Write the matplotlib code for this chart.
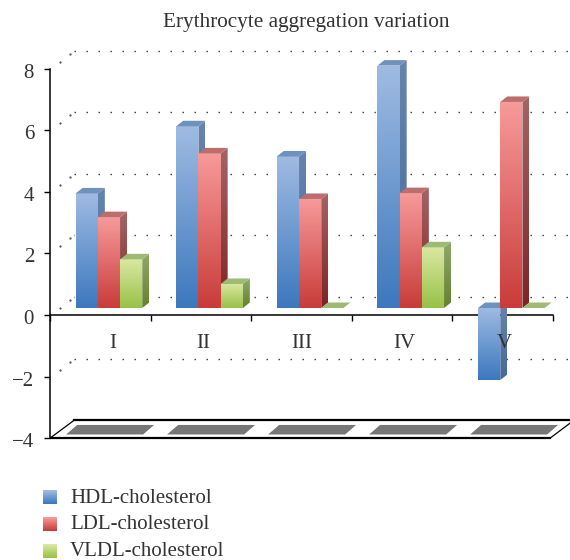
import matplotlib
matplotlib.use('Agg')
import matplotlib.pyplot as plt
import numpy as np
from matplotlib.colors import to_rgb, LinearSegmentedColormap
from matplotlib.legend_handler import HandlerBase
from matplotlib.patches import Patch, Polygon, Rectangle
from matplotlib.transforms import ScaledTranslation

plt.rcParams['font.family'] = ['Liberation Serif', 'DejaVu Serif']

# ---------------------------------------------------------------------------
# Data (bar height above the bar floor)
# ---------------------------------------------------------------------------
categories = ['I', 'II', 'III', 'IV', 'V']
hdl = [3.72, 5.90, 4.92, 7.87, -2.34]
ldl = [2.95, 5.02, 3.54, 3.73, 6.69]
vldl = [1.58, 0.78, 0.0, 1.97, 0.0]
series_names = ['HDL-cholesterol', 'LDL-cholesterol', 'VLDL-cholesterol']
y_ticks = [-4, -2, 0, 2, 4, 6, 8]
title = 'Erythrocyte aggregation variation'

# ---------------------------------------------------------------------------
# Fake 3D geometry and colours
# ---------------------------------------------------------------------------
PX_X = 1 / 100.6
PX_Y = 1 / 30.8
BAR_W = 22.2 * PX_X
GROUP_START = 0.255
BASE = 7 * PX_Y
DX = 7 * PX_X
DY = 5.5 * PX_Y
TEXT = '#333333'

# front top, front bottom, side top, side bottom, top face
styles = [
    ('#9FBBE2', '#3C78BE', '#6784AE', '#47699A', '#7090BE'),
    ('#F79A9A', '#C83C3A', '#A56464', '#7D2424', '#BC6E6E'),
    ('#DAE8A2', '#99C147', '#8FA96A', '#64802D', '#9FBA75'),
]
label_x = [0.62, 1.52, 2.50, 3.52, 4.52]


def gradient_poly(ax, verts, c_top, c_bottom, zorder=3):
    verts = np.array(verts)
    cmap = LinearSegmentedColormap.from_list('g', [c_top, c_bottom])
    grad = np.linspace(0, 1, 128).reshape(-1, 1)
    extent = (verts[:, 0].min(), verts[:, 0].max(), verts[:, 1].min(), verts[:, 1].max())
    im = ax.imshow(grad, cmap=cmap, extent=extent, origin='upper', aspect='auto',
                   interpolation='bilinear', zorder=zorder)
    im.set_clip_path(Polygon(verts, closed=True, transform=ax.transData))


def bar_faces(x, value):
    y0, y1 = sorted((BASE, BASE + value))
    front = [(x, y0), (x + BAR_W, y0), (x + BAR_W, y1), (x, y1)]
    side = [(x + BAR_W, y0), (x + BAR_W + DX, y0 + DY), (x + BAR_W + DX, y1 + DY), (x + BAR_W, y1)]
    top = [(x, y1), (x + BAR_W, y1), (x + BAR_W + DX, y1 + DY), (x + DX, y1 + DY)]
    return front, side, top, y1 > y0


def draw_bar(ax, x, value, style):
    front_t, front_b, side_t, side_b, top_c = style
    front, side, top, has_height = bar_faces(x, value)
    if has_height:
        gradient_poly(ax, side, side_t, side_b)
        gradient_poly(ax, front, front_t, front_b)
    ax.add_patch(Polygon(top, closed=True, fc=top_c, ec='none', zorder=3))


class GradientHandler(HandlerBase):
    def create_artists(self, legend, orig_handle, xd, yd, width, height, fontsize, trans):
        c_top, c_bottom = orig_handle.gradient
        c_top, c_bottom = np.array(to_rgb(c_top)), np.array(to_rgb(c_bottom))
        size = 10.0
        n = 14
        artists = []
        for k in range(n):
            t = k / (n - 1)
            artists.append(Rectangle((-xd, -yd + height / 2 + size / 2 - 1.5 - (k + 1) * size / n),
                                     size, size / n + 0.1, fc=c_top + (c_bottom - c_top) * t,
                                     ec='none', transform=trans))
        return artists


# ---------------------------------------------------------------------------
# Plot
# ---------------------------------------------------------------------------
fig = plt.figure(figsize=(5.7, 5.6), dpi=100)
ax = fig.add_axes([50 / 570, 0, 520 / 570, 1])
xlim = (0, 520 * PX_X)
ylim = ((315 - 560) * PX_Y, 315 * PX_Y)

# dotted back wall lines
BACK_Y = 18 * PX_Y
for v in [-2, 0, 2, 4, 6, 8]:
    ax.plot([24 * PX_X, xlim[1]], [v + BACK_Y, v + BACK_Y], color='#333333', lw=1.0,
            ls=(0, (1.0, 7.64)), zorder=1)
    ax.plot([10 * PX_X, 20 * PX_X], [v + 7 * PX_Y, v + 15 * PX_Y], ls='none', marker='s',
            ms=0.6, color='#555555', zorder=1)

# floor
floor_r = 500 * PX_X
floor_back = -3.42
ax.plot([24 * PX_X, xlim[1]], [floor_back, floor_back], color='black', lw=1.6, zorder=2)
ax.plot([0, floor_r], [-4, -4], color='black', lw=1.6, zorder=2)
ax.plot([0, 24 * PX_X], [-4, floor_back], color='black', lw=0.9, zorder=2)
ax.plot([floor_r, xlim[1]], [-4, -4 + 15 * PX_Y], color='black', lw=0.9, zorder=2)

# floor shadows
for i in range(len(categories)):
    x = i * 1.004 + 0.16
    ax.add_patch(Polygon([(x, -3.88), (x + 77 * PX_X, -3.88), (x + 88 * PX_X, -3.57), (x + 11 * PX_X, -3.57)],
                         closed=True, fc='#777777', ec='none', zorder=2))

all_values = [hdl, ldl, vldl]

# thin white halo first, it breaks the dotted lines around the bars
for i in range(len(categories)):
    for j, values in enumerate(all_values):
        front, side, top, has_height = bar_faces(i + GROUP_START + j * BAR_W, values[i])
        if has_height:
            ax.add_patch(Polygon(front, closed=True, fc='white', ec='white', lw=1.6, zorder=1.2))

# bars, left to right so each one covers the side of the previous
for i in range(len(categories)):
    for j, values in enumerate(all_values):
        draw_bar(ax, i + GROUP_START + j * BAR_W, values[i], styles[j])

ax.set_xlim(xlim)
ax.set_ylim(ylim)

for name in ['top', 'right']:
    ax.spines[name].set_visible(False)
ax.spines['left'].set_bounds(-4, 8)
ax.spines['left'].set_linewidth(1.1)
ax.spines['bottom'].set_position(('data', 0))
ax.spines['bottom'].set_bounds(0, 5)
ax.spines['bottom'].set_linewidth(1.1)
ax.spines['bottom'].set_zorder(1.5)

ax.set_yticks(y_ticks)
ax.set_yticklabels([str(v).replace('-', '\u2212') for v in y_ticks], fontsize=15, color=TEXT)
ax.tick_params(axis='y', length=4, width=1.0, pad=7.5)
# labels sit a little below their ticks in the reference
label_shift = ScaledTranslation(0, -2 / 100, fig.dpi_scale_trans)
for lab in ax.get_yticklabels():
    lab.set_transform(lab.get_transform() + label_shift)

ax.set_xticks(range(len(categories) + 1))
ax.set_xticklabels([])
ax.set_xticks(label_x, labels=categories, minor=True)
ax.tick_params(axis='x', which='major', length=4, width=1.0, direction='out')
ax.tick_params(axis='x', which='minor', length=0, pad=14, labelsize=15, labelcolor=TEXT)
ax.set_axisbelow(False)
ax.xaxis.set_zorder(6)

fig.text(306 / 570, 1 - 22.5 / 560, title, ha='center', va='center', fontsize=15.3, color=TEXT)

handles = []
for j, name in enumerate(series_names):
    h = Patch(label=name)
    h.gradient = styles[j][:2]
    handles.append(h)
ax.legend(handles=handles, handler_map={Patch: GradientHandler()}, frameon=False,
          loc='upper left', bbox_to_anchor=(43 / 570, 1 - 488 / 560), bbox_transform=fig.transFigure,
          fontsize=15, labelcolor=TEXT, borderpad=0, borderaxespad=0, labelspacing=0.34,
          handlelength=1.0, handletextpad=0.3, handleheight=0.7)

fig.savefig('out.png', dpi=100)
